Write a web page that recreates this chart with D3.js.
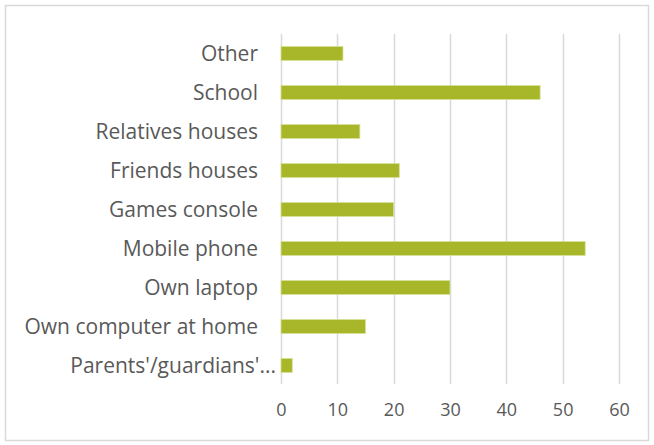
<!DOCTYPE html>
<html>
<head>
<meta charset="utf-8">
<script src="https://cdn.jsdelivr.net/npm/d3@7"></script>
<style>
  body { margin: 0; background: #fff; }
  text { font-family: "Open Sans", Lato, sans-serif; fill: #595959; }
</style>
</head>
<body>
<div id="chart"></div>
<script>
// categories top to bottom, as shown
var categories = ["Other", "School", "Relatives houses", "Friends houses", "Games console",
  "Mobile phone", "Own laptop", "Own computer at home", "Parents'/guardians'..."];
var values = [11, 46, 14, 21, 20, 54, 30, 15, 2];
var ticks = [0, 10, 20, 30, 40, 50, 60];

var data = categories.map(function (c, i) {
  return { name: c, value: values[i] };
});

var w = 654;
var h = 445;

var svg = d3
  .select("#chart")
  .append("svg")
  .attr("width", w)
  .attr("height", h);

// chart border
svg
  .append("rect")
  .attr("x", 5.5)
  .attr("y", 5.5)
  .attr("width", w - 11)
  .attr("height", h - 10)
  .attr("fill", "#fff")
  .attr("stroke", "#d9d9d9")
  .attr("stroke-width", 1.5);

var xScale = d3.scaleLinear().domain([0, 60]).range([281, 619]);

var yScale = d3
  .scaleBand()
  .domain(categories)
  .range([34, 385])
  .paddingInner(0.64)
  .paddingOuter(0.32);

// gridlines
svg
  .append("g")
  .selectAll("line")
  .data(ticks)
  .enter()
  .append("line")
  .attr("x1", function (d) { return Math.round(xScale(d)) + 0.5; })
  .attr("x2", function (d) { return Math.round(xScale(d)) + 0.5; })
  .attr("y1", 34)
  .attr("y2", 384)
  .attr("stroke", "#d9d9d9")
  .attr("stroke-width", 1.5);

// bars
svg
  .selectAll(".bar")
  .data(data)
  .enter()
  .append("rect")
  .attr("class", "bar")
  .attr("x", xScale(0))
  .attr("y", function (d) { return yScale(d.name); })
  .attr("width", function (d) { return xScale(d.value) - xScale(0); })
  .attr("height", yScale.bandwidth())
  .attr("fill", "#a8b72a")
  .attr("stroke", "#d6e09a")
  .attr("stroke-width", 0.8);

// category labels
svg
  .selectAll(".label")
  .data(data)
  .enter()
  .append("text")
  .attr("class", "label")
  .attr("x", function (d) { return /\.\.\.$/.test(d.name) ? 276 : 258; })
  .attr("y", function (d) { return yScale(d.name) + yScale.bandwidth() / 2; })
  .attr("dy", "0.35em")
  .attr("text-anchor", "end")
  .style("font-size", "21px")
  .text(function (d) { return d.name; });

// x axis labels
var xAxis = d3.axisBottom(xScale).tickValues(ticks).tickSize(0).tickPadding(0);
var gx = svg
  .append("g")
  .attr("transform", "translate(0,408)")
  .call(xAxis);
gx.select(".domain").remove();
gx.selectAll("text")
  .attr("fill", "#595959")
  .style("font-size", "18px")
  .style("font-family", "'Open Sans', Lato, sans-serif")
  .attr("dy", "0.45em");
</script>
</body>
</html>
